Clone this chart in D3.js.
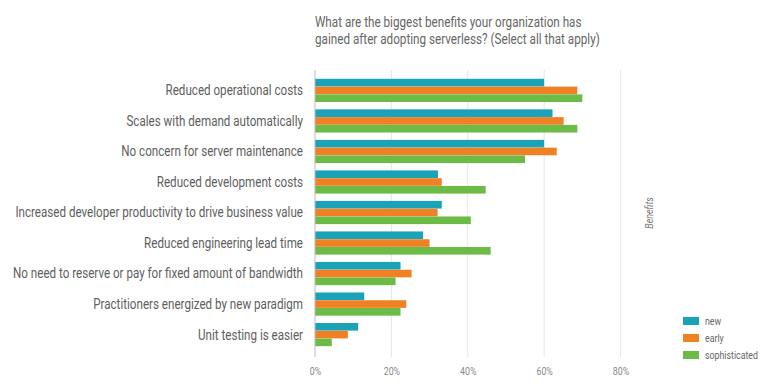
<!DOCTYPE html>
<html>
<head>
<meta charset="utf-8">
<script src="https://cdn.jsdelivr.net/npm/d3@7"></script>
<style>
  body { margin: 0; background: #fff; }
  text { font-family: "Roboto", "Liberation Sans", sans-serif; }
</style>
</head>
<body>
<div id="chart"></div>
<script>
const width = 772, height = 392;

const categories = [
  "Reduced operational costs",
  "Scales with demand automatically",
  "No concern for server maintenance",
  "Reduced development costs",
  "Increased developer productivity to drive business value",
  "Reduced engineering lead time",
  "No need to reserve or pay for fixed amount of bandwidth",
  "Practitioners energized by new paradigm",
  "Unit testing is easier"
];
const seriesNames = ["new", "early", "sophisticated"];
const newValues = [60.0, 62.2, 60.0, 32.2, 33.2, 28.3, 22.4, 12.9, 11.3];
const earlyValues = [68.7, 65.1, 63.3, 33.2, 32.1, 30.0, 25.3, 23.9, 8.6];
const sophisticatedValues = [70.0, 68.7, 55.0, 44.7, 40.8, 46.0, 21.1, 22.4, 4.4];
const xTicks = [0, 20, 40, 60, 80];
const titleLines = [
  "What are the biggest benefits your organization has",
  "gained after adopting serverless? (Select all that apply)"
];

const colors = ["#1aa3b8", "#ef8024", "#6cbb46"];
const seriesValues = [newValues, earlyValues, sophisticatedValues];
const rows = categories.map((c, i) => ({
  cat: c,
  vals: seriesNames.map((s, j) => ({ key: s, value: seriesValues[j][i] }))
}));

// the original font is a condensed face, squeeze text horizontally
const squeeze = (tx, ty, s) => `translate(${tx},${ty}) scale(${s},1)`;

const svg = d3.select("#chart").append("svg")
  .attr("width", width)
  .attr("height", height);

const x = d3.scaleLinear().domain([0, 80]).range([315, 620.5]);
const y = d3.scaleBand().domain(categories).range([75, 350]).paddingInner(0.23).paddingOuter(0.12);
const yInner = d3.scaleBand().domain(seriesNames).range([0, y.bandwidth()]).padding(0.02);

// title
svg.append("g").selectAll("text")
  .data(titleLines)
  .join("text")
  .attr("transform", (d, i) => squeeze(315, 27 + i * 17, 0.78))
  .attr("fill", "#666")
  .attr("font-size", 15)
  .text(d => d);

// grid
svg.append("g").selectAll("line")
  .data(xTicks.slice(1))
  .join("line")
  .attr("x1", d => x(d)).attr("x2", d => x(d))
  .attr("y1", 70).attr("y2", 357)
  .attr("stroke", "#e6e6e6");

// bars
const groups = svg.append("g").selectAll("g")
  .data(rows)
  .join("g")
  .attr("transform", d => `translate(0,${y(d.cat)})`);

groups.selectAll("rect")
  .data(d => d.vals)
  .join("rect")
  .attr("x", x(0))
  .attr("y", d => yInner(d.key))
  .attr("width", d => x(d.value) - x(0))
  .attr("height", yInner.bandwidth())
  .attr("fill", (d, i) => colors[i]);

// axis line at 0
svg.append("line")
  .attr("x1", x(0)).attr("x2", x(0))
  .attr("y1", 70).attr("y2", 357)
  .attr("stroke", "#bbbbbb");

// category labels
svg.append("g").selectAll("text")
  .data(categories)
  .join("text")
  .attr("transform", d => squeeze(303, y(d) + y.bandwidth() / 2, 0.83))
  .attr("dy", "0.35em")
  .attr("text-anchor", "end")
  .attr("fill", "#5e5e5e")
  .attr("font-size", 14)
  .text(d => d);

// x axis
const xAxis = svg.append("g")
  .attr("transform", "translate(0,357)")
  .call(d3.axisBottom(x).tickValues(xTicks).tickFormat(d => d + "%").tickSize(0).tickPadding(10));
xAxis.select(".domain").remove();
xAxis.selectAll("text")
  .attr("fill", "#888")
  .attr("font-size", 11)
  .attr("transform", "scale(0.8,1)")
  .style("font-family", "Roboto, sans-serif");

// facet label
svg.append("text")
  .attr("transform", "translate(653,213) rotate(-90) scale(0.85,1)")
  .attr("text-anchor", "middle")
  .attr("font-size", 10.5)
  .attr("font-style", "italic")
  .attr("fill", "#777")
  .text("Benefits");

// legend
const legend = svg.append("g").selectAll("g")
  .data(seriesNames)
  .join("g")
  .attr("transform", (d, i) => `translate(683,${317 + i * 17})`);
legend.append("rect")
  .attr("width", 16).attr("height", 8)
  .attr("fill", (d, i) => colors[i]);
legend.append("text")
  .attr("transform", squeeze(22, 4, 0.8))
  .attr("dy", "0.35em")
  .attr("font-size", 11)
  .attr("fill", "#666")
  .text(d => d);
</script>
</body>
</html>
